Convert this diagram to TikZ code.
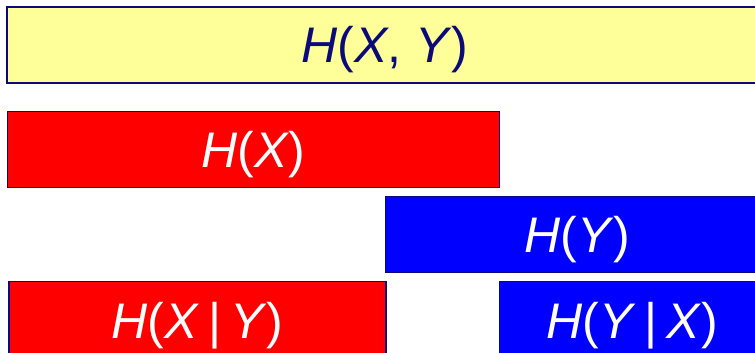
\documentclass[tikz,border=0pt]{standalone}
\usepackage{fontspec}
\setmainfont{Liberation Sans}
\definecolor{navy}{HTML}{0A0A78}
\definecolor{paleyellow}{HTML}{FFFF99}
\newcommand{\iv}[1]{\textit{#1}}
\begin{document}
\begin{tikzpicture}[x=1pt,y=-1pt,
  ebox/.style={draw=navy, line width=1.8pt, anchor=north west, inner sep=0pt,
    text height=36pt, text depth=0pt, font=\fontsize{50}{60}\selectfont},
  ybox/.style={ebox, fill=paleyellow, text=navy},
  rbox/.style={ebox, fill=red, text=white},
  bbox/.style={ebox, fill=blue, text=white}]
\useasboundingbox (0,0) rectangle (755,353);
\clip (0,0) rectangle (755,353);
\node[ybox, minimum width=756pt, minimum height=76pt] (hxy) at (6,6) {\iv{H}(\iv{X}, \iv{Y})};
\node[rbox, minimum width=492pt, minimum height=76pt] (hx) at (6.5,110.5) {\iv{H}(\iv{X})};
\node[bbox, minimum width=384pt, minimum height=76pt] (hy) at (384.5,195.5) {\iv{H}(\iv{Y})};
\node[rbox, minimum width=377pt, minimum height=78pt] (hxgy) at (8,280.5) {\iv{H}(\iv{X}\hspace{0.18em}|\hspace{0.18em}\iv{Y})};
\node[bbox, minimum width=266pt, minimum height=78pt] (hygx) at (498.5,280.5) {\iv{H}(\iv{Y}\hspace{0.18em}|\hspace{0.18em}\iv{X})};
\end{tikzpicture}
\end{document}
